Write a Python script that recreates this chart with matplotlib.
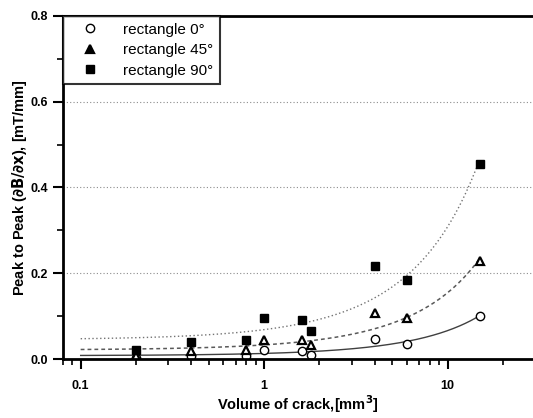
import matplotlib
matplotlib.use("Agg")
import matplotlib.pyplot as plt
import numpy as np
from matplotlib.ticker import MultipleLocator, FixedLocator, NullFormatter

plt.rcParams["font.family"] = ["Liberation Sans", "DejaVu Sans"]

# values
vol_sq = [0.2, 0.4, 0.8, 1.0, 1.6, 1.8, 4.0, 6.0, 15.0]
p90 = [0.020, 0.040, 0.045, 0.095, 0.090, 0.065, 0.217, 0.185, 0.455]

vol_tri = [0.2, 0.4, 0.8, 1.0, 1.6, 1.8, 4.0, 6.0, 15.0]
p45 = [0.007, 0.018, 0.021, 0.045, 0.044, 0.033, 0.108, 0.095, 0.228]

vol_circ = [0.2, 0.4, 0.8, 1.0, 1.6, 1.8, 4.0, 6.0, 15.0]
p0 = [0.003, 0.007, 0.007, 0.022, 0.019, 0.010, 0.047, 0.035, 0.100]

labels = ["rectangle 0\u00b0", "rectangle 45\u00b0", "rectangle 90\u00b0"]


def exp_grow_fit(x, y):
    """y = y0 + A exp(x/t), least squares in y0, A with a scan over t."""
    x = np.asarray(x)
    y = np.asarray(y)
    best = None
    for t in np.linspace(1.0, 40.0, 800):
        M = np.column_stack([np.ones_like(x), np.exp(x / t)])
        coef, *_ = np.linalg.lstsq(M, y, rcond=None)
        err = np.sum((M @ coef - y) ** 2)
        if best is None or err < best[0]:
            best = (err, coef, t)
    _, (y0, A), t = best
    return lambda xx: y0 + A * np.exp(xx / t)


fig = plt.figure(figsize=(5.33, 4.18), dpi=100)
ax = fig.add_axes([0.118, 0.141, 0.886, 0.821])

xx = np.logspace(np.log10(0.1), np.log10(15.0), 300)
ax.plot(xx, exp_grow_fit(vol_circ, p0)(xx), "-", color="0.25", lw=1.0)
ax.plot(xx, exp_grow_fit(vol_tri, p45)(xx), color="0.35", lw=1.1, ls=(0, (2.5, 2)))
ax.plot(xx, exp_grow_fit(vol_sq, p90)(xx), color="0.45", lw=1.0, ls=(0, (1, 1.8)))

ax.plot(vol_circ, p0, "o", ms=6, mfc="white", mec="black", mew=1.0, ls="none", label=labels[0])
ax.plot(vol_tri, p45, "^", ms=5.5, mfc="white", mec="black", mew=1.6, ls="none", label=labels[1])
ax.plot(vol_sq, p90, "s", ms=6, mfc="black", mec="black", ls="none", label=labels[2])

ax.set_xscale("log")
ax.set_xlim(0.08, 30)
ax.set_ylim(0.0, 0.8)
ax.yaxis.set_major_locator(MultipleLocator(0.2))
ax.yaxis.set_minor_locator(MultipleLocator(0.1))
ax.xaxis.set_major_locator(FixedLocator([0.1, 1, 10]))
ax.set_xticklabels(["0.1", "1", "10"])
ax.xaxis.set_minor_formatter(NullFormatter())

for y in [0.2, 0.4, 0.6]:
    ax.axhline(y, color="0.55", lw=0.8, ls=(0, (1, 2)), zorder=0)

for s in ["left", "bottom", "top"]:
    ax.spines[s].set_linewidth(2.0)
ax.spines["right"].set_visible(False)

ax.tick_params(which="major", direction="out", length=7, width=1.5, labelsize=9)
ax.tick_params(axis="x", which="major", pad=8)
ax.tick_params(which="minor", direction="out", length=4, width=1.2)
ax.tick_params(top=False, right=False)
for lab in ax.get_xticklabels() + ax.get_yticklabels():
    lab.set_fontweight("bold")

ax.set_xlabel("Volume of crack,[mm$^\\mathbf{3}$]", fontsize=10.5, fontweight="bold")
ax.xaxis.set_label_coords(0.498, -0.132)
ax.xaxis.label.set_va("center")
ax.set_ylabel("Peak to Peak ($\\mathbf{\\partial B/\\partial x}$), [mT/mm]", fontsize=10.5, fontweight="bold")
ax.yaxis.set_label_coords(-0.091, 0.5)
ax.yaxis.label.set_va("center")

leg = ax.legend(loc="upper left", fontsize=11, frameon=True, fancybox=False,
                borderaxespad=0.0, handletextpad=0.9, borderpad=0.45, labelspacing=0.42,
                handlelength=2.6)
leg.get_frame().set_edgecolor("black")
leg.get_frame().set_linewidth(1.5)
leg.legend_handles[1].set_markerfacecolor("black")

fig.savefig("out.png", dpi=100)
